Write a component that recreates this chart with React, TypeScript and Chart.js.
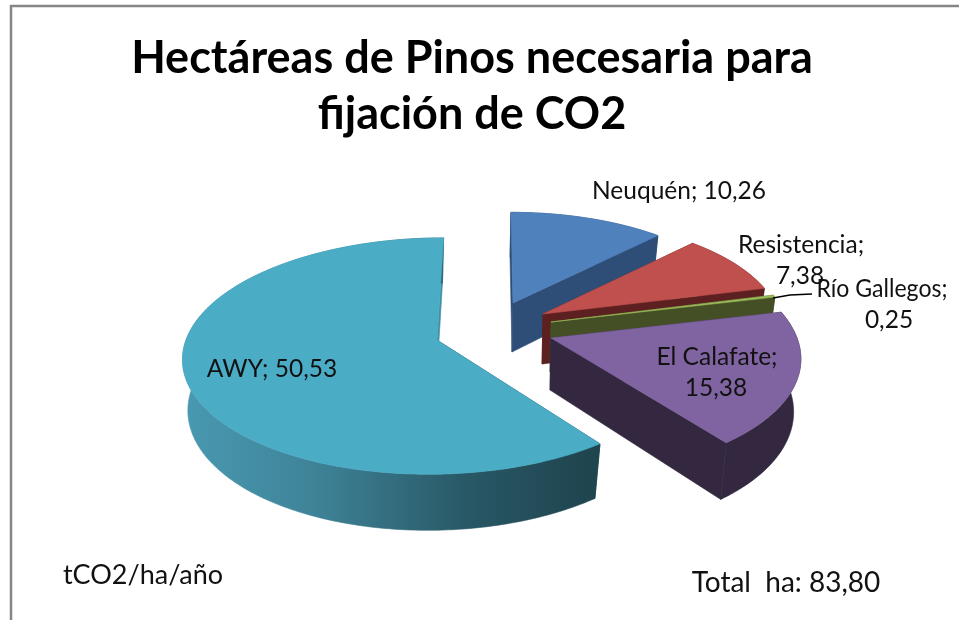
import React, { useEffect, useRef } from "react";
import { Chart, registerables } from "chart.js";

Chart.register(...registerables);

const categories = ["Neuquén", "Resistencia", "Río Gallegos", "El Calafate", "AWY"];
const values = [10.26, 7.38, 0.25, 15.38, 50.53];
const titleLines = ["Hectáreas de Pinos necesaria para", "fijación de CO2"];
const topColors = ["#4F81BD", "#C0504D", "#9BBB59", "#8064A2", "#4BACC6"];
const sideColors = ["#2E4E78", "#5C2020", "#454F25", "#332840", "#1F454F"];
const annotations = [
  { text: "tCO2/ha/año", x: 143, y: 575, size: 27 },
  { text: "Total  ha: 83,80", x: 786, y: 583, size: 28 },
];
const labelLines = [
  { text: "Neuquén; 10,26", x: 679, y: 191 },
  { text: "Resistencia;", x: 801, y: 245 },
  { text: "7,38", x: 800, y: 276 },
  { text: "Río Gallegos;", x: 882, y: 289, fit: 131 },
  { text: "0,25", x: 889, y: 320 },
  { text: "El Calafate;", x: 717, y: 357 },
  { text: "15,38", x: 716, y: 388 },
  { text: "AWY; 50,53", x: 272, y: 369 },
];

// Projection of each exploded slice: apex on screen, plane radii, shear, extrusion
const sliceViews = [
  { ax: 513, ay: 303, rx: 231, ry: 103, s: -0.01, d: 49 },
  { ax: 543, ay: 314, rx: 236, ry: 108, s: 0, d: 50 },
  { ax: 551, ay: 322, rx: 237, ry: 113, s: 0, d: 50 },
  { ax: 551, ay: 338, rx: 246, ry: 117, s: -0.04, d: 52 },
  { ax: 437, ay: 340, rx: 251, ry: 116, s: 0.03, d: 50 },
];
const PERSPECTIVE = 0.136;

type P = [number, number];

const pie3d = {
  id: "pie3d",
  beforeDatasetsDraw(chart: any) {
    const ctx: CanvasRenderingContext2D = chart.ctx;
    const meta = chart.getDatasetMeta(0);
    meta.data.forEach((el: any, i: number) => {
      const { startAngle, endAngle } = el.getProps(["startAngle", "endAngle"], true);
      const v = sliceViews[i];
      const project = (theta: number): P => {
        const u = Math.sin(theta);
        const c = Math.cos(theta);
        const w = 1 + PERSPECTIVE * c;
        return [v.rx * (u + v.s * c) / w, (-v.ry * c) / w];
      };
      const top = (p: P): P => [v.ax + p[0], v.ay + p[1]];
      const bottom = (p: P): P => [v.ax + p[0] * 0.975 - 1, v.ay + p[1] * 1.045 + v.d];
      const t0 = startAngle + Math.PI / 2;
      const t1 = endAngle + Math.PI / 2;
      const n = Math.max(2, Math.ceil(((t1 - t0) * 180) / Math.PI));
      const arc: P[] = [];
      for (let k = 0; k <= n; k++) arc.push(project(t0 + ((t1 - t0) * k) / n));
      const fill = (pts: P[], style: any) => {
        ctx.beginPath();
        pts.forEach((p, idx) => (idx ? ctx.lineTo(p[0], p[1]) : ctx.moveTo(p[0], p[1])));
        ctx.closePath();
        ctx.fillStyle = style;
        ctx.strokeStyle = style;
        ctx.lineWidth = 0.6;
        ctx.fill();
        ctx.stroke();
      };
      const origin: P = [0, 0];
      const side = sideColors[i];
      const endFace = i === 4 ? "#3F8FA6" : side;
      fill([top(origin), top(arc[0]), bottom(arc[0]), bottom(origin)], side);
      fill([top(origin), top(arc[n]), bottom(arc[n]), bottom(origin)], endFace);
      let rim: any = side;
      if (i === 4) {
        const g = ctx.createLinearGradient(190, 0, 590, 0);
        g.addColorStop(0, "#4898B0");
        g.addColorStop(0.3, "#3F8499");
        g.addColorStop(0.7, "#285765");
        g.addColorStop(1, "#1F454F");
        rim = g;
      }
      fill([...arc.map(top), ...arc.slice().reverse().map(bottom)], rim);
      fill([top(origin), ...arc.map(top)], topColors[i]);
    });
    return false;
  },
  afterDraw(chart: any) {
    const ctx: CanvasRenderingContext2D = chart.ctx;
    ctx.save();
    // frame
    ctx.strokeStyle = "#868686";
    ctx.lineWidth = 2.5;
    ctx.beginPath();
    ctx.moveTo(11, 620);
    ctx.lineTo(11, 6);
    ctx.lineTo(959, 6);
    ctx.stroke();
    // leader line
    ctx.strokeStyle = "#000000";
    ctx.lineWidth = 1.5;
    ctx.beginPath();
    ctx.moveTo(773, 298);
    ctx.lineTo(790, 295);
    ctx.lineTo(812, 294);
    ctx.stroke();
    ctx.fillStyle = "#111111";
    ctx.textAlign = "center";
    ctx.textBaseline = "middle";
    ctx.font = "24.5px Lato";
    labelLines.forEach((l) => {
      if (l.fit) ctx.fillText(l.text, l.x, l.y, l.fit);
      else ctx.fillText(l.text, l.x, l.y);
    });
    annotations.forEach((a) => {
      ctx.font = `${a.size}px Lato`;
      ctx.fillText(a.text, a.x, a.y);
    });
    ctx.restore();
  },
};

export default function App() {
  const ref = useRef<HTMLCanvasElement>(null);
  useEffect(() => {
    const chart = new Chart(ref.current!, {
      type: "pie",
      data: {
        labels: categories,
        datasets: [{ data: values, backgroundColor: topColors, borderWidth: 0 }],
      },
      options: {
        responsive: false,
        animation: false,
        layout: { padding: { right: 15 } },
        plugins: {
          legend: { display: false },
          tooltip: { enabled: false },
          title: {
            display: true,
            text: titleLines,
            color: "#000000",
            font: { family: "Lato", size: 45, weight: "bold", lineHeight: 1.25 },
            padding: { top: 30, bottom: 0 },
          },
        },
      },
      plugins: [pie3d],
    } as any);
    return () => chart.destroy();
  }, []);
  return (
    <div style={{ position: "fixed", left: 0, top: 0, width: 959, height: 620, background: "#fff" }}>
      <canvas ref={ref} width={959} height={620} style={{ display: "block" }} />
    </div>
  );
}
